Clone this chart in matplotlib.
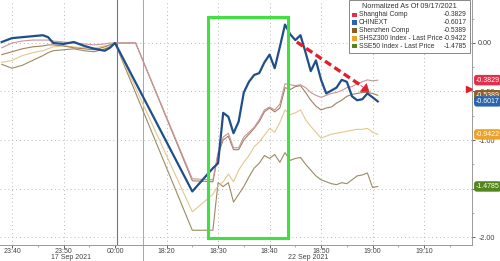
import numpy as np
import matplotlib.pyplot as plt
from matplotlib.patches import Rectangle, FancyBboxPatch

plt.rcParams['font.family'] = ['Liberation Sans', 'DejaVu Sans']
narrow = ['Liberation Sans Narrow', 'Liberation Sans', 'DejaVu Sans']

# session 1 (17 Sep) and session 2 (22 Sep) times, axis is compressed
times1 = ["23:38", "23:40", "23:42", "23:44", "23:46", "23:47", "23:48", "23:50",
          "23:52", "23:54", "23:56", "23:58", "23:59", "00:00", "00:04"]
times2 = ["18:25"] + ["18:%02d" % m for m in range(29, 60)] + ["19:00", "19:01"]

nan = np.nan
chinext1 = [0.01, 0.05, 0.06, 0.07, 0.08, 0.06, 0.00, -0.01, 0.01, -0.03, -0.06, -0.08, -0.05, 0.0, nan]
shanghai1 = [-0.05, 0.0, 0.02, 0.03, 0.03, 0.03, 0.02, 0.01, 0.0, -0.01, -0.02, -0.01, 0.0, 0.0, 0.0]
shenzhen1 = [-0.12, -0.09, -0.06, -0.04, -0.03, -0.02, -0.02, -0.03, -0.05, -0.06, -0.07, -0.04, -0.02, 0.0, 0.0]
shsz300_1 = [-0.20, -0.18, -0.13, -0.10, -0.08, -0.06, -0.04, -0.03, -0.04, -0.05, -0.05, -0.03, -0.02, 0.0, nan]
sse50_1 = [-0.22, -0.26, -0.23, -0.18, -0.13, -0.10, -0.08, -0.07, -0.06, -0.08, -0.09, -0.06, -0.04, 0.0, nan]

chinext2 = [-1.53, -1.29, -1.24, -0.72, -0.76, -0.93, -0.81, -0.51, -0.40, -0.33, -0.31, -0.20,
            -0.12, -0.26, -0.04, 0.19, 0.09, 0.03, 0.08, -0.10, -0.29, -0.18, -0.38, -0.52, -0.49,
            -0.46, -0.38, -0.40, -0.55, -0.59, -0.58, -0.52, -0.56, -0.6017]
shanghai2 = [-1.40, -1.41, -1.13, -0.97, -0.93, -1.08, -1.08, -0.97, -0.92, -0.87, -0.79, -0.69,
             -0.66, -0.69, -0.63, -0.42, -0.43, -0.44, -0.43, -0.46, -0.51, -0.54, -0.56, -0.54,
             -0.52, -0.51, -0.49, -0.46, -0.45, -0.42, -0.40, -0.38, -0.39, -0.3829]
shenzhen2 = [-1.42, -1.43, -1.15, -1.00, -0.96, -1.10, -1.10, -1.00, -0.94, -0.88, -0.81, -0.71,
             -0.67, -0.71, -0.67, -0.46, -0.48, -0.45, -0.44, -0.51, -0.59, -0.65, -0.69, -0.67,
             -0.66, -0.62, -0.59, -0.55, -0.53, -0.52, -0.51, -0.51, -0.52, -0.5389]
shsz300_2 = [-1.74, -1.56, -1.47, -1.43, -1.35, -1.43, -1.31, -1.23, -1.16, -1.07, -1.02, -0.95,
             -0.88, -0.92, -0.82, -0.69, -0.74, -0.72, -0.69, -0.79, -0.86, -0.92, -0.98, -0.96,
             -0.94, -0.93, -0.92, -0.91, -0.90, -0.89, -0.89, -0.88, -0.92, -0.9422]
sse50_2 = [-1.93, -1.93, -1.44, -1.48, -1.44, -1.64, -1.56, -1.48, -1.38, -1.29, -1.24, -1.16,
           -1.19, -1.15, -1.23, -1.13, -1.21, -1.19, -1.18, -1.25, -1.31, -1.37, -1.41, -1.43,
           -1.45, -1.46, -1.44, -1.45, -1.41, -1.37, -1.36, -1.34, -1.49, -1.4785]

names = ["Shanghai Comp", "CHINEXT", "Shenzhen Comp", "SHSZ300 Index - Last Price", "SSE50 Index - Last Price"]
last = [-0.3829, -0.6017, -0.5389, -0.9422, -1.4785]
tag_colors = ["#e2304c", "#2a66ad", "#8f5e22", "#eea229", "#55861e"]
line_colors = ["#c9949a", "#1f4f8a", "#a57f5f", "#e6c68e", "#9b8b62"]


def pos1(t):
    h, m = map(int, t.split(":"))
    if h == 0:
        h = 24
    return (h - 23) * 60 + m - 40


def pos2(t):
    h, m = map(int, t.split(":"))
    return 30 + (h - 18) * 60 + m - 20


x = np.array([pos1(t) for t in times1] + [pos2(t) for t in times2], dtype=float)
series = [shanghai1 + shanghai2, chinext1 + chinext2, shenzhen1 + shenzhen2,
          shsz300_1 + shsz300_2, sse50_1 + sse50_2]

fig = plt.figure(figsize=(5, 2.61), dpi=100)
ax = fig.add_axes([0, 16 / 261, 472 / 500, 245 / 261])
ax.set_xlim(-2.33, 89.3)
ax.set_ylim(-2.082, 0.443)

# grid
for v in [0, -0.5, -1.0, -1.5, -2.0]:
    ax.axhline(v, color="#b8b8b8", lw=0.7, ls=(0, (1, 3)), zorder=0)
for t in [0, 10, 30, 40, 50, 60, 70, 80]:
    ax.axvline(t, color="#b8b8b8", lw=0.7, ls=(0, (1, 3)), zorder=0)
ax.axvline(20.3, color="#777777", lw=0.8, zorder=0)
ax.plot([25.4, 25.4], [-0.066, 1], transform=ax.get_xaxis_transform(),
        color="#999999", lw=0.6, clip_on=False, zorder=0)

order = [4, 3, 2, 0, 1]
for i in order:
    y = np.array(series[i], dtype=float)
    ok = ~np.isnan(y)
    ax.plot(x[ok], y[ok], color=line_colors[i], lw=1.6 if i == 1 else 0.8, zorder=3 if i == 1 else 2)

# highlight box and trend arrow
ax.add_patch(Rectangle((38.1, -2.01), 15.5, 2.28, fill=False, ec="#3fe03f", lw=2.2, zorder=4))
ax.plot([55.3, 67.8], [0.01, -0.44], color="#e0202a", lw=2.4, ls=(0, (2.2, 1.2)), zorder=5)
ax.annotate("", xy=(69.8, -0.525), xytext=(67.3, -0.42),
            arrowprops=dict(arrowstyle="-|>,head_length=0.5,head_width=0.35", color="#e0202a", lw=0.5),
            zorder=5)

# ticks
ax.set_xticks([0, 10, 20, 30, 40, 50, 60, 70, 80])
ax.set_xticklabels(["23:40", "23:50", "00:00", "18:20", "18:30", "18:40", "18:50", "19:00", "19:10"])
ax.set_xticks([5, 15, 35, 45, 55, 65, 75, 85], minor=True)
ax.set_yticks([0, -0.5, -1.0, -1.5, -2.0])
ax.set_yticklabels(["0.00", "-0.50", "-1.00", "-1.50", "-2.00"])
ax.set_yticks(np.arange(-2.0, 0.3, 0.25), minor=True)
ax.yaxis.tick_right()
ax.tick_params(axis="both", labelsize=5.2, colors="#444444", length=2.5, width=0.6, pad=2)
ax.tick_params(axis="both", which="minor", length=1.5, width=0.5, colors="#888888")
ax.tick_params(axis="x", labelsize=5, length=1.8, pad=0.4)
for s in ["left", "top"]:
    ax.spines[s].set_visible(False)
for s in ["right", "bottom"]:
    ax.spines[s].set_color("#999999")
    ax.spines[s].set_linewidth(0.7)

xt = ax.get_xaxis_transform()
ax.text(11.5, -0.05, "17 Sep 2021", transform=xt, ha="center", va="center", fontsize=5, color="#444444")
ax.text(57.4, -0.05, "22 Sep 2021", transform=xt, ha="center", va="center", fontsize=5, color="#444444")

# last-value tags on the right
yt = ax.get_yaxis_transform()
for i in [2, 0, 1, 3, 4]:
    ax.text(1.008, last[i], "%.4f" % last[i], transform=yt, ha="left", va="center", fontsize=5,
            color="white", zorder=6, clip_on=False,
            bbox=dict(boxstyle="round,pad=0.25,rounding_size=0.4", fc=tag_colors[i], ec="none"))
ax.plot([0.993], [-0.47], transform=yt, marker=">", color="#e0202a", ms=5, clip_on=False, zorder=6)

# legend box
ax.add_patch(FancyBboxPatch((349 / 472, 1 - 53 / 245), 121 / 472, 53 / 245, boxstyle="square,pad=0",
                            transform=ax.transAxes, fc="white", ec="#888888", lw=0.7, zorder=7))
ax.text(409 / 472, 1 - 6.7 / 245, "Normalized As Of 09/17/2021", transform=ax.transAxes,
        ha="center", va="center", fontsize=5.2, color="#333333", zorder=8, family=narrow)
rows = [15, 22.7, 30.3, 38.3, 46]
for i in range(5):
    fy = 1 - rows[i] / 245
    ax.add_patch(Rectangle((352 / 472, fy - 2.4 / 245), 4.5 / 472, 4.8 / 245, transform=ax.transAxes,
                           fc=tag_colors[i], ec="none", zorder=8))
    ax.text(359 / 472, fy, names[i], transform=ax.transAxes, ha="left", va="center",
            fontsize=4.9, color="#333333", zorder=8, family=narrow)
    ax.text(467 / 472, fy, "%.4f" % last[i], transform=ax.transAxes, ha="right", va="center",
            fontsize=4.9, color="#333333", zorder=8, family=narrow)

fig.savefig("out.png", dpi=100)
